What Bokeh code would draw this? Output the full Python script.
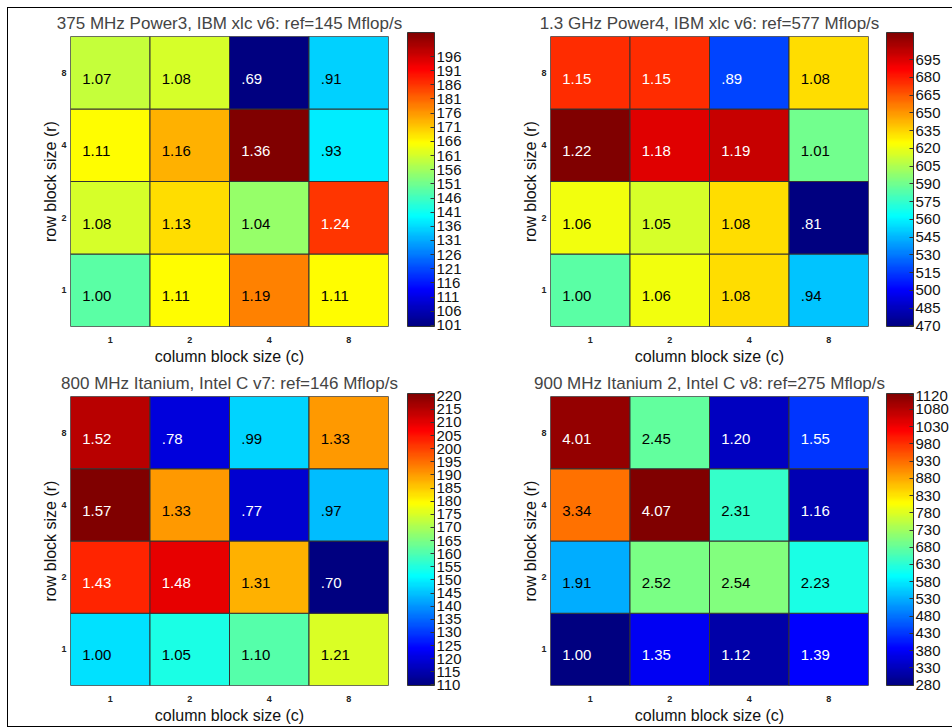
import math
import numpy as np
from bokeh.plotting import figure
from bokeh.models import (ColumnDataSource, LinearColorMapper, ColorBar, FixedTicker,
                          FactorRange, AllLabels, Title)
from bokeh.layouts import column, row
from bokeh.embed import file_html
from bokeh.resources import INLINE
from bokeh.transform import transform
from bokeh.core.properties import value

# ---------------- data ----------------
col_blocks = ["1", "2", "4", "8"]
row_blocks = ["1", "2", "4", "8"]

titles = [
    "375 MHz Power3, IBM xlc v6: ref=145 Mflop/s",
    "1.3 GHz Power4, IBM xlc v6: ref=577 Mflop/s",
    "800 MHz Itanium, Intel C v7: ref=146 Mflop/s",
    "900 MHz Itanium 2, Intel C v8: ref=275 Mflop/s",
]
refs = [145, 577, 146, 275]
x_title = "column block size (c)"
y_title = "row block size (r)"

# speedup ratios, rows r = 1, 2, 4, 8 (bottom to top), columns c = 1, 2, 4, 8
power3 = [[1.00, 1.11, 1.19, 1.11],
          [1.08, 1.13, 1.04, 1.24],
          [1.11, 1.16, 1.36, 0.93],
          [1.07, 1.08, 0.69, 0.91]]
power4 = [[1.00, 1.06, 1.08, 0.94],
          [1.06, 1.05, 1.08, 0.81],
          [1.22, 1.18, 1.19, 1.01],
          [1.15, 1.15, 0.89, 1.08]]
itanium1 = [[1.00, 1.05, 1.10, 1.21],
            [1.43, 1.48, 1.31, 0.70],
            [1.57, 1.33, 0.77, 0.97],
            [1.52, 0.78, 0.99, 1.33]]
itanium2 = [[1.00, 1.35, 1.12, 1.39],
            [1.91, 2.52, 2.54, 2.23],
            [3.34, 4.07, 2.31, 1.16],
            [4.01, 2.45, 1.20, 1.55]]

cb_ticks = [
    list(range(101, 197, 5)),
    list(range(470, 696, 15)),
    list(range(110, 221, 5)),
    list(range(280, 1081, 50)) + [1120],
]
# colorbar scale extents (Mflop/s)
cb_ranges = [(100.6, 204.5), (469.5, 718.0), (109.8, 221.0), (279.0, 1126.0)]


def jet(n=256):
    pal = []
    for i in range(n):
        t = i / (n - 1)
        r = min(max(1.5 - abs(4 * t - 3), 0), 1)
        g = min(max(1.5 - abs(4 * t - 2), 0), 1)
        b = min(max(1.5 - abs(4 * t - 1), 0), 1)
        pal.append("#%02x%02x%02x" % (int(r * 255 + .5), int(g * 255 + .5), int(b * 255 + .5)))
    return pal


JET = jet(256)
FONT = "Liberation Sans"


def make_panel(title, ratios, ref, ticks, cbr, width, height, mbl, mbr, mbt, mbb,
               frame_w, frame_h, cb_gap):
    xs, ys, mf, labels = [], [], [], []
    for ri, r in enumerate(row_blocks):
        for ci, c in enumerate(col_blocks):
            v = ratios[ri][ci]
            xs.append(c)
            ys.append(r)
            mf.append(v * ref)
            s = f"{v:.2f}"
            labels.append(s[1:] if v < 1 else s)
    lo, hi = min(mf), max(mf)
    tcol = []
    for m in mf:
        t = (m - lo) / (hi - lo)
        tcol.append("white" if (t < 0.25 or t > 0.8) else "black")
    src = ColumnDataSource(dict(x=xs, y=ys, m=mf, label=labels, tc=tcol))
    mapper = LinearColorMapper(palette=JET, low=lo, high=hi)

    p = figure(x_range=FactorRange(*col_blocks), y_range=FactorRange(*row_blocks),
               width=width, height=height, output_backend="svg", toolbar_location=None,
               tools="", title=title,
               min_border_left=mbl, min_border_right=mbr, min_border_top=mbt,
               min_border_bottom=mbb, x_axis_label=x_title)
    p.rect(x="x", y="y", width=1, height=1, source=src, fill_color=transform("m", mapper),
           line_color="#333333", line_width=1)
    p.text(x="x", y="y", text="label", source=src, text_color="tc", text_align="left",
           text_baseline="middle", x_offset=-28, y_offset=6,
           text_font=value(FONT), text_font_size="15px")

    p.grid.visible = False
    p.outline_line_color = "#999999"
    p.title.text_font = FONT
    p.title.text_font_size = "17px"
    p.title.text_font_style = "normal"
    p.title.align = "center"
    p.title.standoff = 7
    for ax in (p.xaxis[0], p.yaxis[0]):
        ax.axis_line_color = None
        ax.major_tick_line_color = None
        ax.minor_tick_line_color = None
        ax.major_tick_out = 0
        ax.major_tick_in = 0
        ax.major_label_text_font = FONT
        ax.major_label_text_font_size = "9px"
        ax.major_label_text_font_style = "bold"
        ax.major_label_text_color = "#222222"
        ax.axis_label_text_font = FONT
        ax.axis_label_text_font_size = "16px"
        ax.axis_label_text_font_style = "normal"
        ax.axis_label_text_color = "#111111"
    p.xaxis.major_label_standoff = 10
    p.xaxis.axis_label_standoff = 2
    p.yaxis.major_label_standoff = 4
    p.yaxis.major_label_orientation = "horizontal"

    # vertical axis title as a side title next to the y tick labels
    p.add_layout(Title(text=y_title, align="center", standoff=0, offset=0,
                       text_font=FONT, text_font_size="16px", text_font_style="normal",
                       text_color="#111111"), "left")

    cb = ColorBar(color_mapper=LinearColorMapper(palette=JET, low=cbr[0], high=cbr[1]),
                  ticker=FixedTicker(ticks=ticks), major_label_policy=AllLabels(),
                  width=27, height=frame_h, margin=0, padding=0,
                  location=(frame_w + cb_gap, 0),
                  bar_line_color="#333333", bar_line_width=1,
                  major_tick_in=4, major_tick_out=0, major_tick_line_color="#333333",
                  minor_tick_line_color=None, label_standoff=2,
                  major_label_text_font=FONT, major_label_text_font_size="15px",
                  major_label_text_color="#111111", border_line_color=None,
                  background_fill_color=None)
    p.add_layout(cb, "center")
    return p


p1 = make_panel(titles[0], power3, refs[0], cb_ticks[0], cb_ranges[0], 468, 359, 62, 88, 27, 38, 318, 294, 19)
p2 = make_panel(titles[1], power4, refs[1], cb_ticks[1], cb_ranges[1], 476, 359, 74, 84, 27, 38, 318, 294, 18)
p3 = make_panel(titles[2], itanium1, refs[2], cb_ticks[2], cb_ranges[2], 468, 359, 62, 88, 29, 38, 318, 292, 19)
p4 = make_panel(titles[3], itanium2, refs[3], cb_ticks[3], cb_ranges[3], 476, 359, 74, 84, 29, 38, 318, 292, 18)

layout = column(row(p1, p2), row(p3, p4),
                styles={"outline": "1px solid #000000", "margin-left": "8px", "margin-top": "8px"})

open("out.html", "w").write(file_html(layout, INLINE))
